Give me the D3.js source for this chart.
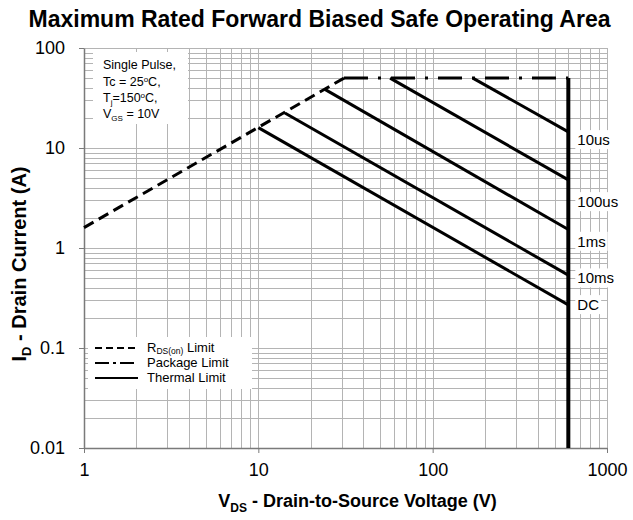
<!DOCTYPE html>
<html>
<head>
<meta charset="utf-8">
<script src="https://cdn.jsdelivr.net/npm/d3@7"></script>
<style>
  body { margin: 0; background: #fff; }
  svg text { font-family: "Liberation Sans", Arial, sans-serif; }
</style>
</head>
<body>
<div id="chart"></div>
<script>
// axis ticks
const xTicks = [1, 10, 100, 1000];
const yTicks = [0.01, 0.1, 1, 10, 100];

// RDS(on) limit (dashed)
const rdsV = [1, 31];
const rdsI = [1.6, 50];

// package limit (dash-dot)
const pkgV = [31, 600];
const pkgI = [50, 50];

// thermal limit curves, start point on the upper limit, end at 600 V
const curveNames = ['10us', '100us', '1ms', '10ms', 'DC'];
const curveStartV = [170, 57, 24.1, 14.2, 10];
const curveStartI = [50, 50, 38.6, 22.4, 16];
const curveEndV = [600, 600, 600, 600, 600];
const curveEndI = [14.5, 4.8, 1.53, 0.535, 0.27];

// breakdown line
const bvV = [600, 600];
const bvI = [50, 0.01];

const width = 633, height = 520;
const margin = { top: 48, right: 26, bottom: 72, left: 84 };

const svg = d3.select('#chart').append('svg')
  .attr('width', width)
  .attr('height', height);

const x = d3.scaleLog().domain([1, 1000]).range([margin.left, width - margin.right]);
const y = d3.scaleLog().domain([0.01, 100]).range([height - margin.bottom, margin.top]);

// minor + major grid values
const gridX = [];
for (let d = 1; d < 1000; d *= 10) for (let k = 1; k <= 9; k++) gridX.push(d * k);
gridX.push(1000);
const gridY = [];
for (let d = 0.01; d < 99; d *= 10) for (let k = 1; k <= 9; k++) gridY.push(+(d * k).toPrecision(3));
gridY.push(100);

const grid = svg.append('g').attr('stroke', '#b4b4b4').attr('stroke-width', 1);
grid.selectAll('.gx').data(gridX).join('line')
  .attr('x1', (d) => Math.round(x(d)) + 0.5).attr('x2', (d) => Math.round(x(d)) + 0.5)
  .attr('y1', y(100)).attr('y2', y(0.01));
grid.selectAll('.gy').data(gridY).join('line')
  .attr('y1', (d) => Math.round(y(d)) + 0.5).attr('y2', (d) => Math.round(y(d)) + 0.5)
  .attr('x1', x(1)).attr('x2', x(1000));

// axes
const xAxis = svg.append('g')
  .attr('transform', `translate(0,${y(0.01)})`)
  .call(d3.axisBottom(x).tickValues(xTicks).tickFormat(d3.format('d')).tickSize(5).tickPadding(10).tickSizeOuter(0));
const yAxis = svg.append('g')
  .attr('transform', `translate(${x(1)},0)`)
  .call(d3.axisLeft(y).tickValues(yTicks).tickFormat((d) => String(d)).tickSize(5).tickPadding(14).tickSizeOuter(0));
[xAxis, yAxis].forEach((a) => {
  a.select('.domain').attr('stroke', '#7a7a7a').attr('stroke-width', 1.5);
  a.selectAll('.tick line').attr('stroke', '#7a7a7a');
  a.selectAll('.tick text').attr('font-size', 18).attr('fill', '#000')
    .style('font-family', '"Liberation Sans", Arial, sans-serif');
});

const line = d3.line().x((d) => x(d[0])).y((d) => y(d[1]));

// thermal limit curves
const curves = curveNames.map((name, i) => ({
  name,
  pts: [[curveStartV[i], curveStartI[i]], [curveEndV[i], curveEndI[i]]],
}));
svg.append('g').selectAll('path').data(curves).join('path')
  .attr('d', (d) => line(d.pts))
  .attr('fill', 'none').attr('stroke', '#000').attr('stroke-width', 3);

// RDS(on) limit
svg.append('path')
  .attr('d', line(rdsV.map((v, i) => [v, rdsI[i]])))
  .attr('fill', 'none').attr('stroke', '#000').attr('stroke-width', 3)
  .attr('stroke-dasharray', '11,6');

// package limit
svg.append('path')
  .attr('d', line(pkgV.map((v, i) => [v, pkgI[i]])))
  .attr('fill', 'none').attr('stroke', '#000').attr('stroke-width', 3)
  .attr('stroke-dasharray', '24,10,3,10');

// 600 V line
svg.append('path')
  .attr('d', line(bvV.map((v, i) => [v, bvI[i]])))
  .attr('fill', 'none').attr('stroke', '#000').attr('stroke-width', 4);

// curve labels with white backing
const labelDy = [8, 22, 12, 3, 0];
const lab = svg.append('g').selectAll('g').data(curves).join('g')
  .attr('transform', (d, i) => `translate(${x(600) + 9},${y(d.pts[1][1]) + labelDy[i]})`);
lab.append('text')
  .attr('font-size', 15).attr('dy', '0.35em')
  .text((d) => d.name);
lab.each(function () {
  const g = d3.select(this);
  const bb = g.select('text').node().getBBox();
  g.insert('rect', 'text')
    .attr('x', bb.x - 2).attr('y', bb.y - 1)
    .attr('width', bb.width + 4).attr('height', bb.height + 2)
    .attr('fill', '#fff');
});

// conditions box
svg.append('rect').attr('x', 93).attr('y', 52).attr('width', 95).attr('height', 72).attr('fill', '#fff');
const cond = svg.append('text').attr('font-size', 12.5).attr('x', 103);
cond.append('tspan').attr('x', 103).attr('y', 69).text('Single Pulse,');
cond.append('tspan').attr('x', 103).attr('y', 86).text('Tc = 25');
cond.append('tspan').attr('font-size', 8).attr('dy', -4).text('o');
cond.append('tspan').attr('dy', 4).text('C,');
cond.append('tspan').attr('x', 103).attr('y', 102).text('T');
cond.append('tspan').attr('font-size', 8).attr('dy', 3).text('j');
cond.append('tspan').attr('dy', -3).text('=150');
cond.append('tspan').attr('font-size', 8).attr('dy', -4).text('o');
cond.append('tspan').attr('dy', 4).text('C,');
cond.append('tspan').attr('x', 103).attr('y', 118).text('V');
cond.append('tspan').attr('font-size', 8).attr('dy', 3).text('GS');
cond.append('tspan').attr('dy', -3).text(' = 10V');

// legend
const legendItems = [
  { dash: '7,4', parts: [['R', 0, 13], ['DS(on)', 2, 8.5], [' Limit', -2, 13]] },
  { dash: '14,4,3,4', parts: [['Package Limit', 0, 13]] },
  { dash: null, parts: [['Thermal Limit', 0, 13]] },
];
svg.append('rect').attr('x', 88).attr('y', 337).attr('width', 164).attr('height', 52).attr('fill', '#fff');
const leg = svg.append('g').selectAll('g').data(legendItems).join('g')
  .attr('transform', (d, i) => `translate(95,${348 + i * 15})`);
leg.append('line').attr('x1', 0).attr('x2', 43)
  .attr('stroke', '#000').attr('stroke-width', 2)
  .attr('stroke-dasharray', (d) => d.dash);
leg.append('text').attr('x', 52).attr('y', 4)
  .each(function (d) {
    const t = d3.select(this);
    d.parts.forEach((p) => t.append('tspan').attr('dy', p[1]).attr('font-size', p[2]).text(p[0]));
  });

// titles
svg.append('text')
  .attr('x', width / 2 + 3).attr('y', 27)
  .attr('text-anchor', 'middle').attr('font-size', 23).attr('font-weight', 'bold')
  .text('Maximum Rated Forward Biased Safe Operating Area');

const xt = svg.append('text')
  .attr('x', (x(1) + x(1000)) / 2 + 12).attr('y', 507)
  .attr('text-anchor', 'middle').attr('font-size', 18).attr('font-weight', 'bold');
xt.append('tspan').text('V');
xt.append('tspan').attr('font-size', 12).attr('dy', 5).text('DS');
xt.append('tspan').attr('dy', -5).text(' - Drain-to-Source Voltage (V)');

const yt = svg.append('text')
  .attr('transform', `translate(26,${(y(0.01) + y(100)) / 2 + 16}) rotate(-90)`)
  .attr('text-anchor', 'middle').attr('font-size', 20).attr('font-weight', 'bold');
yt.append('tspan').text('I');
yt.append('tspan').attr('font-size', 13).attr('dy', 5).text('D');
yt.append('tspan').attr('dy', -5).text(' - Drain Current (A)');
</script>
</body>
</html>
